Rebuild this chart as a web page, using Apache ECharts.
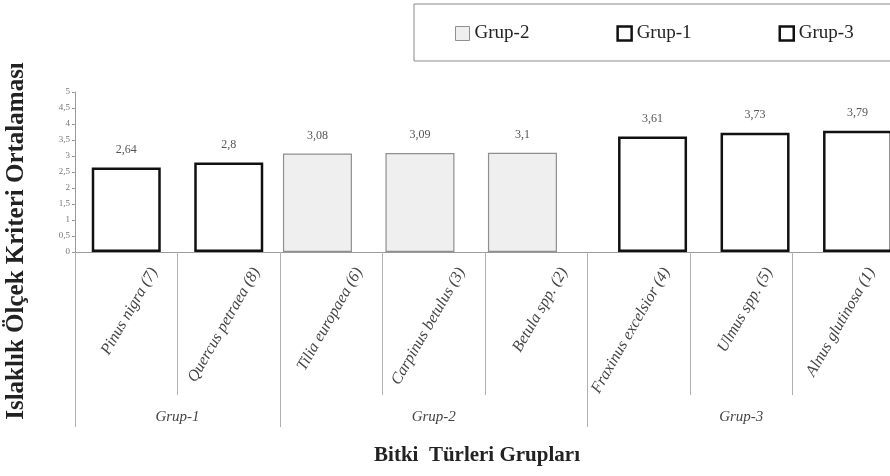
<!DOCTYPE html>
<html>
<head>
<meta charset="utf-8">
<style>
  html, body { margin: 0; padding: 0; background: #fff; }
  #chart { width: 890px; height: 476px; }
</style>
<script src="https://cdn.jsdelivr.net/npm/echarts@6/dist/echarts.min.js"></script>
</head>
<body>
<div id="chart"></div>
<script>
// Species (sample count) along the category axis
const categories = [
  'Pinus nigra (7)', 'Quercus petraea (8)', 'Tilia europaea (6)',
  'Carpinus betulus (3)', 'Betula spp. (2)', 'Fraxinus excelsior (4)',
  'Ulmus spp. (5)', 'Alnus glutinosa (1)'
];
// Mean wetness-scale values per group
const grup2 = ['-', '-', 3.08, 3.09, 3.1, '-', '-', '-'];
const grup1 = [2.64, 2.8, '-', '-', '-', '-', '-', '-'];
const grup3 = ['-', '-', '-', '-', '-', 3.61, 3.73, 3.79];
// Species groups: names, boundaries and centres in category units
const groupNames = ['Grup-1', 'Grup-2', 'Grup-3'];
const groupBounds = [0, 2, 5, 8];
const groupCenters = [1, 3.5, 6.5];
// Value axis range
const yMin = 0, yMax = 5, yStep = 0.5;

const SERIF = '"Liberation Serif", "Times New Roman", serif';
const comma = v => String(v).replace('.', ',');

const chart = echarts.init(document.getElementById('chart'));

const boldStyle = { color: '#ffffff', borderColor: '#111111', borderWidth: 2.5 };
const lightStyle = { color: '#efefef', borderColor: '#8f8f8f', borderWidth: 1.2 };

const valueLabel = {
  show: true,
  position: 'top',
  distance: 12,
  fontFamily: SERIF,
  fontSize: 12,
  color: '#555',
  formatter: p => comma(p.value)
};

chart.setOption({
  backgroundColor: '#ffffff',
  animation: false,
  grid: {
    left: 75, top: 92, width: 820, height: 160,
    containLabel: false,
    outerBoundsMode: 'none'
  },
  legend: {
    left: 414,
    top: 4,
    width: 480,
    orient: 'horizontal',
    padding: [20, 40, 18, 41],
    borderColor: '#8a8a8a',
    borderWidth: 1,
    itemWidth: 14,
    itemHeight: 14,
    itemGap: 87,
    icon: 'rect',
    textStyle: { fontFamily: SERIF, fontSize: 19, color: '#222' },
    data: [
      { name: 'Grup-2', itemStyle: { color: '#efefef', borderColor: '#8f8f8f', borderWidth: 1 } },
      { name: 'Grup-1', itemStyle: { color: '#fff', borderColor: '#111', borderWidth: 2.5 } },
      { name: 'Grup-3', itemStyle: { color: '#fff', borderColor: '#111', borderWidth: 2.5 } }
    ]
  },
  xAxis: [
    {
      type: 'category',
      data: categories,
      position: 'bottom',
      axisLine: { lineStyle: { color: '#9a9a9a', width: 1 } },
      axisTick: { show: true, length: 143, lineStyle: { color: '#b0b0b0', width: 1 } },
      axisLabel: {
        rotate: 60,
        interval: 0,
        margin: 1,
        verticalAlign: 'top',
        lineHeight: 64,
        fontFamily: SERIF,
        fontStyle: 'italic',
        fontSize: 16,
        color: '#444'
      },
      splitLine: { show: false }
    },
    {
      type: 'value',
      position: 'bottom',
      offset: 0,
      min: 0,
      max: 8,
      axisLine: { show: false },
      splitLine: { show: false },
      axisTick: {
        show: true,
        customValues: groupBounds,
        length: 175,
        lineStyle: { color: '#b0b0b0', width: 1 }
      },
      axisLabel: {
        show: true,
        customValues: groupCenters,
        margin: 158,
        fontFamily: SERIF,
        fontStyle: 'italic',
        fontSize: 15,
        color: '#444',
        formatter: v => groupNames[groupCenters.indexOf(v)] || ''
      }
    }
  ],
  yAxis: {
    type: 'value',
    min: yMin,
    max: yMax,
    interval: yStep,
    axisLine: { show: true, lineStyle: { color: '#9a9a9a', width: 1 } },
    axisTick: { show: true, length: 3, lineStyle: { color: '#9a9a9a' } },
    splitLine: { show: false },
    axisLabel: {
      margin: 5,
      fontFamily: SERIF,
      fontSize: 9,
      color: '#777',
      formatter: v => comma(v)
    }
  },
  series: [
    { name: 'Grup-2', type: 'bar', data: grup2, barWidth: 69, barGap: '-80%', itemStyle: lightStyle, label: valueLabel },
    { name: 'Grup-1', type: 'bar', data: grup1, barWidth: 69, barGap: '-80%', itemStyle: boldStyle, label: valueLabel },
    { name: 'Grup-3', type: 'bar', data: grup3, barWidth: 69, barGap: '-80%', itemStyle: boldStyle, label: valueLabel }
  ],
  graphic: [
    {
      type: 'text',
      x: 17, y: 241,
      rotation: Math.PI / 2,
      style: {
        text: 'Islaklık Ölçek Kriteri Ortalaması',
        fontFamily: SERIF, fontWeight: 'bold', fontSize: 25, fill: '#222',
        textAlign: 'center', textVerticalAlign: 'middle'
      }
    },
    {
      type: 'text',
      x: 477, y: 456,
      style: {
        text: 'Bitki  Türleri Grupları',
        fontFamily: SERIF, fontWeight: 'bold', fontSize: 21, fill: '#222',
        textAlign: 'center', textVerticalAlign: 'middle'
      }
    }
  ]
});
</script>
</body>
</html>
